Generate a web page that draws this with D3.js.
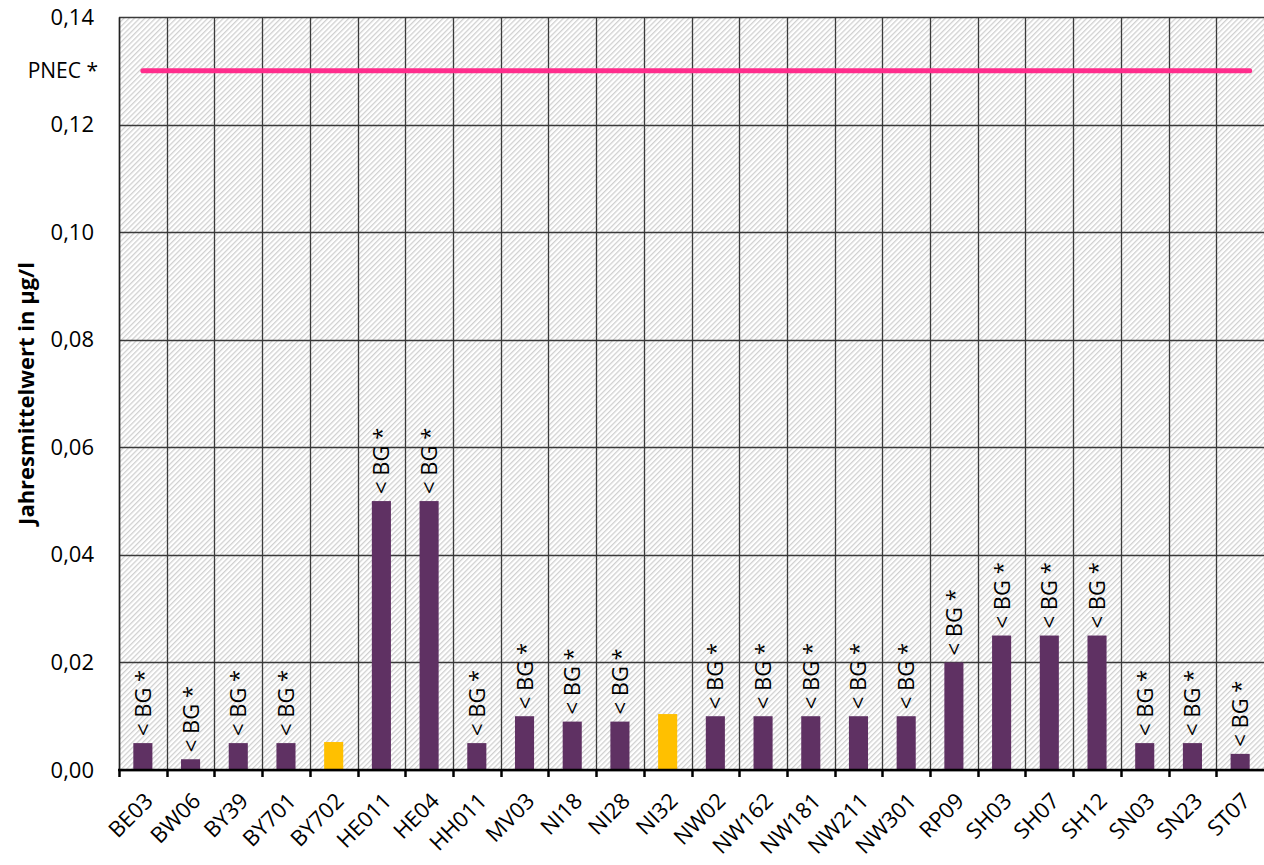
<!DOCTYPE html>
<html>
<head>
<meta charset="utf-8">
<script src="https://cdn.jsdelivr.net/npm/d3@7"></script>
<style>
  html, body { margin: 0; padding: 0; background: #ffffff; }
  svg { display: block; font-family: "Open Sans", sans-serif; }
</style>
</head>
<body>
<div id="chart"></div>
<script>
// Jahresmittelwerte je Messstelle, mit PNEC-Linie
const stations = ["BE03", "BW06", "BY39", "BY701", "BY702", "HE011", "HE04", "HH011", "MV03", "NI18",
  "NI28", "NI32", "NW02", "NW162", "NW181", "NW211", "NW301", "RP09", "SH03", "SH07", "SH12", "SN03", "SN23", "ST07"]
const annualMeans = [0.005, 0.002, 0.005, 0.005, 0.0052, 0.05, 0.05, 0.005, 0.01, 0.009,
  0.009, 0.0104, 0.01, 0.01, 0.01, 0.01, 0.01, 0.02, 0.025, 0.025, 0.025, 0.005, 0.005, 0.003]
// true = Wert unter Bestimmungsgrenze ("< BG *")
const belowBG = [true, true, true, true, false, true, true, true, true, true,
  true, false, true, true, true, true, true, true, true, true, true, true, true, true]
const yTicks = [0, 0.02, 0.04, 0.06, 0.08, 0.10, 0.12, 0.14]
const pnecValue = 0.13
const pnecLabel = "PNEC *"
const yTitle = "Jahresmittelwert in µg/l"

const W = 1264, H = 865
const margin = { top: 17, right: 0, bottom: 95, left: 119 }
const font = "'Open Sans', sans-serif"

const svg = d3.select("#chart").append("svg")
  .attr("width", W)
  .attr("height", H)

// Schraffur des Plotbereichs
const defs = svg.append("defs")
defs.append("pattern")
  .attr("id", "hatch")
  .attr("patternUnits", "userSpaceOnUse")
  .attr("width", 3.7)
  .attr("height", 3.7)
  .attr("patternTransform", "rotate(45)")
  .append("rect")
  .attr("x", 0)
  .attr("y", 0)
  .attr("width", 1.3)
  .attr("height", 3.7)
  .attr("fill", "#d0d0d0")

const x = d3.scaleBand()
  .domain(stations)
  .range([margin.left, W - margin.right])
  .padding(0)

const y = d3.scaleLinear()
  .domain([0, 0.14])
  .range([H - margin.bottom, margin.top])

const fmt = v => d3.format(".2f")(v).replace(".", ",")

// Hintergrund
svg.append("rect")
  .attr("x", margin.left)
  .attr("y", margin.top)
  .attr("width", W - margin.left - margin.right)
  .attr("height", y(0) - margin.top)
  .attr("fill", "url(#hatch)")

// Horizontale Gitterlinien
svg.append("g")
  .selectAll("line")
  .data(yTicks)
  .join("line")
  .attr("x1", margin.left)
  .attr("x2", W - margin.right)
  .attr("y1", d => Math.round(y(d)) + 0.5)
  .attr("y2", d => Math.round(y(d)) + 0.5)
  .attr("stroke", "#3a3a3a")
  .attr("stroke-width", 1.3)

// Vertikale Gitterlinien an den Kategoriegrenzen
svg.append("g")
  .selectAll("line")
  .data(stations)
  .join("line")
  .attr("x1", d => Math.round(x(d)) + 0.5)
  .attr("x2", d => Math.round(x(d)) + 0.5)
  .attr("y1", margin.top)
  .attr("y2", y(0))
  .attr("stroke", "#3a3a3a")
  .attr("stroke-width", 1.3)

// Balken
const barW = x.bandwidth() * 0.4
svg.append("g")
  .selectAll("rect")
  .data(stations)
  .join("rect")
  .attr("x", d => x(d) + (x.bandwidth() - barW) / 2)
  .attr("width", barW)
  .attr("y", (d, i) => y(annualMeans[i]))
  .attr("height", (d, i) => y(0) - y(annualMeans[i]))
  .attr("fill", (d, i) => belowBG[i] ? "#5f3163" : "#ffc000")

// "< BG *" Beschriftungen
svg.append("g")
  .selectAll("text")
  .data(stations.filter((d, i) => belowBG[i]))
  .join("text")
  .attr("transform", d => {
    const i = stations.indexOf(d)
    return `translate(${x(d) + x.bandwidth() / 2 + 8},${y(annualMeans[i]) - 7}) rotate(-90)`
  })
  .attr("text-anchor", "start")
  .style("font-size", "22px")
  .style("fill", "#000")
  .text("< BG *")

// PNEC-Linie
svg.append("line")
  .attr("x1", x(stations[0]) + x.bandwidth() / 2)
  .attr("x2", x(stations[stations.length - 1]) + x.bandwidth() * 0.7)
  .attr("y1", y(pnecValue))
  .attr("y2", y(pnecValue))
  .attr("stroke", "#ff2d8c")
  .attr("stroke-width", 5)
  .attr("stroke-linecap", "round")

svg.append("text")
  .attr("x", margin.left - 21)
  .attr("y", y(pnecValue))
  .attr("dy", "0.35em")
  .attr("text-anchor", "end")
  .style("font-size", "21px")
  .text(pnecLabel)

// y-Achse
const yAxis = svg.append("g")
  .attr("transform", `translate(${margin.left},0)`)
  .call(d3.axisLeft(y).tickValues(yTicks).tickFormat(fmt).tickSize(0).tickPadding(25))
yAxis.select(".domain").attr("stroke", "#222").attr("stroke-width", 1.5)
yAxis.selectAll("text")
  .style("font-size", "22px")
  .style("font-family", font)
  .attr("fill", "#000")

// x-Achse
const xAxis = svg.append("g")
  .attr("transform", `translate(0,${y(0)})`)
  .call(d3.axisBottom(x).tickSize(0).tickPadding(0))
xAxis.select(".domain").remove()
xAxis.selectAll("text")
  .style("font-size", "22px")
  .style("font-family", font)
  .attr("fill", "#000")
  .attr("text-anchor", "end")
  .attr("dy", "0.35em")
  .attr("transform", "translate(6,27) rotate(-45)")

svg.append("line")
  .attr("x1", margin.left - 1)
  .attr("x2", W)
  .attr("y1", y(0))
  .attr("y2", y(0))
  .attr("stroke", "#000")
  .attr("stroke-width", 2.5)

// Tick-Marken an den Kategoriegrenzen
svg.append("g")
  .selectAll("line")
  .data(stations)
  .join("line")
  .attr("x1", d => Math.round(x(d)) + 0.5)
  .attr("x2", d => Math.round(x(d)) + 0.5)
  .attr("y1", y(0))
  .attr("y2", y(0) + 7)
  .attr("stroke", "#000")
  .attr("stroke-width", 2.5)

// Achsentitel
svg.append("text")
  .attr("transform", `translate(34,${(margin.top + y(0)) / 2}) rotate(-90)`)
  .attr("text-anchor", "middle")
  .style("font-size", "22px")
  .style("font-weight", "bold")
  .text(yTitle)
</script>
</body>
</html>
